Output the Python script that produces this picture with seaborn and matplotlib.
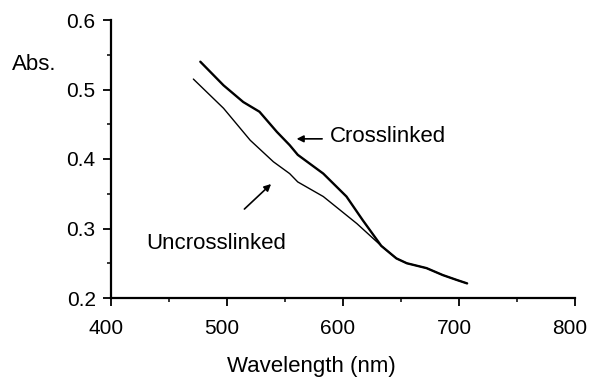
import matplotlib
matplotlib.use("Agg")
import matplotlib.pyplot as plt
import seaborn as sns
import pandas as pd
from matplotlib.ticker import MultipleLocator
from matplotlib.transforms import ScaledTranslation

# values
tail_wl = [646, 655, 672, 686, 698, 707]
tail_abs = [0.257, 0.250, 0.243, 0.233, 0.226, 0.221]

crossl_wl = [477, 497, 514, 528, 543, 554, 561, 583, 603, 617, 633] + tail_wl
crossl_abs = [0.540, 0.506, 0.482, 0.468, 0.439, 0.420, 0.406, 0.379, 0.346, 0.312, 0.275] + tail_abs

uncrossl_wl = [471, 497, 520, 540, 554, 561, 583, 612, 633] + tail_wl
uncrossl_abs = [0.515, 0.473, 0.427, 0.396, 0.379, 0.367, 0.346, 0.307, 0.275] + tail_abs

x_ticks = [400, 500, 600, 700, 800]
y_ticks = [0.2, 0.3, 0.4, 0.5, 0.6]

df_c = pd.DataFrame({"wl": crossl_wl, "abs": crossl_abs})
df_u = pd.DataFrame({"wl": uncrossl_wl, "abs": uncrossl_abs})

sns.set_style("ticks", {"text.color": "black", "xtick.color": "black",
                        "ytick.color": "black", "axes.edgecolor": "black",
                        "axes.labelcolor": "black"})
plt.rcParams["font.family"] = ["Liberation Sans", "DejaVu Sans"]

fig = plt.figure(figsize=(5.9, 3.77), dpi=100)
ax = fig.add_axes([111 / 590, 1 - 298 / 377, 464 / 590, 278 / 377])

sns.lineplot(data=df_u, x="wl", y="abs", ax=ax, color="black", lw=1.0, sort=False)
sns.lineplot(data=df_c, x="wl", y="abs", ax=ax, color="black", lw=1.7, sort=False)

ax.set_xlim(400, 800)
ax.set_ylim(0.2, 0.6)
ax.set_xticks(x_ticks)
ax.set_yticks(y_ticks)
ax.set_xticklabels([str(v) for v in x_ticks])
ax.set_yticklabels([f"{v:.1f}" for v in y_ticks])
ax.xaxis.set_minor_locator(MultipleLocator(50))
ax.yaxis.set_minor_locator(MultipleLocator(0.05))
ax.tick_params(which="major", length=6, width=1.3, labelsize=15, colors="black")
ax.tick_params(axis="x", which="major", pad=9)
ax.tick_params(axis="y", which="major", pad=5)
ax.tick_params(which="minor", length=3, width=1.1, colors="black")
# the scanned labels sit a little left of their ticks
shift = ScaledTranslation(-5 / 100, 0, fig.dpi_scale_trans)
for lab in ax.get_xticklabels():
    lab.set_transform(lab.get_transform() + shift)
for s in ["top", "right"]:
    ax.spines[s].set_visible(False)
for s in ["left", "bottom"]:
    ax.spines[s].set_linewidth(1.6)
ax.set_xlabel("")
ax.set_ylabel("")

fig.text(311 / 590, 5 / 377, "Wavelength (nm)", ha="center", va="baseline", fontsize=16)
fig.text(12 / 590, 1 - 65 / 377, "Abs.", ha="left", va="center", fontsize=16)

ax.text(589, 0.432, "Crosslinked", ha="left", va="center", fontsize=16)
ax.text(430, 0.279, "Uncrosslinked", ha="left", va="center", fontsize=16)

arrow = dict(arrowstyle="-|>", color="black", lw=1.2, mutation_scale=10, shrinkA=0, shrinkB=0)
ax.annotate("", xy=(560, 0.429), xytext=(582, 0.429), arrowprops=arrow)
ax.annotate("", xy=(538, 0.364), xytext=(515, 0.328), arrowprops=arrow)

fig.savefig("out.png", dpi=100)
